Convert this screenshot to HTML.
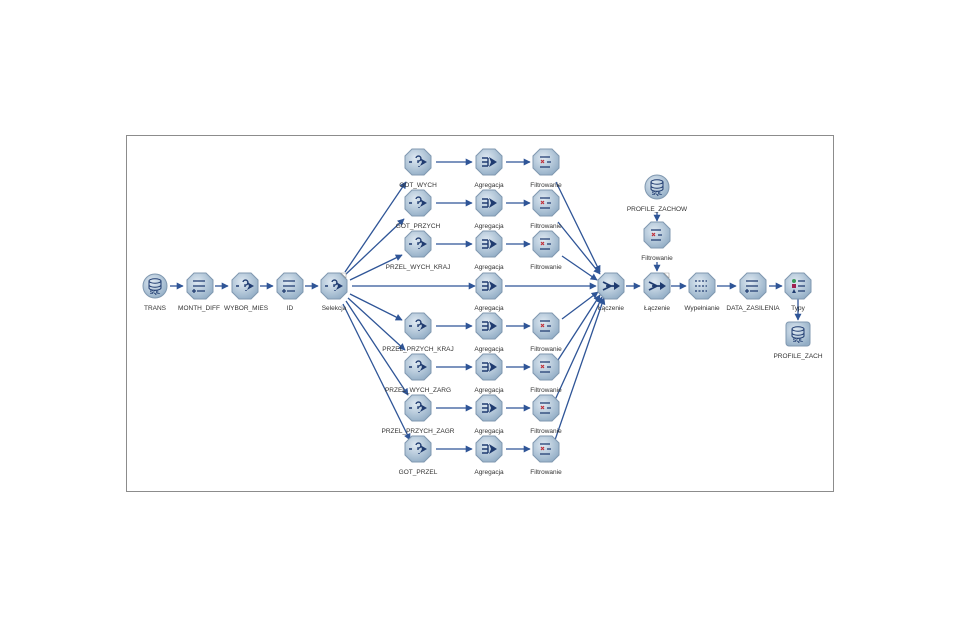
<!DOCTYPE html>
<html><head><meta charset="utf-8"><style>
html,body{margin:0;padding:0;background:#fff;}
svg{display:block}
text{font-family:"Liberation Sans",sans-serif;font-size:6.5px;fill:#333;text-anchor:middle}
.l{stroke:#2f5597;stroke-width:1.3;fill:none;marker-end:url(#a)}
</style></head><body>
<svg width="960" height="627" viewBox="0 0 960 627" xmlns="http://www.w3.org/2000/svg">
<defs>
<marker id="a" viewBox="0 0 10 10" refX="9" refY="5" markerWidth="7" markerHeight="7" orient="auto" markerUnits="userSpaceOnUse"><path d="M0,0 L10,5 L0,10 z" fill="#2f5597"/></marker>
<radialGradient id="g" cx="40%" cy="35%" r="70%"><stop offset="0" stop-color="#dfe9f2"/><stop offset="1" stop-color="#93aec6"/></radialGradient>
<g id="hx"><polygon points="-6,-13 6,-13 13,-6 13,6 6,13 -6,13 -13,6 -13,-6" fill="url(#g)" stroke="#8098b0" stroke-width="1"/></g>
<g id="sel"><use href="#hx"/><path d="M-9,0h3 M-2,-4a2.5,2.5 0 1 1 2,3v2 M1,4v1" stroke="#1f3b70" stroke-width="1.4" fill="none"/><path d="M2,-4l7,4l-7,4l2,-4z" fill="#1f3b70"/></g>
<g id="agg"><use href="#hx"/><path d="M-7,-4h6M-7,0h6M-7,4h6M-1,-4v8" stroke="#1f3b70" stroke-width="1.4" fill="none"/><path d="M0,-5l8,5l-8,5l2,-5z" fill="#1f3b70"/></g>
<g id="flt"><use href="#hx"/><path d="M-6,-5h10M-6,5h10M1,0h4" stroke="#1f3b70" stroke-width="1.2"/><path d="M-5,-2l3,3M-2,-2l-3,3" stroke="#c0303a" stroke-width="1.2"/></g>
<g id="der"><use href="#hx"/><path d="M-7,-5h12M-7,0h12M-3,5h8M-6,3v4M-8,5h4" stroke="#1f3b70" stroke-width="1.3"/></g>
<g id="mrg"><use href="#hx"/><path d="M-8,-4l8,4l-8,4M-5,0h12" stroke="#1f3b70" stroke-width="1.8" fill="none"/><path d="M3,-4l6,4l-6,4z" fill="#1f3b70"/></g>
<g id="fil"><use href="#hx"/><path d="M-7,-5h12M-7,0h12M-7,5h12" stroke="#1f3b70" stroke-width="1.2" stroke-dasharray="2,1.5"/></g>
<g id="typ"><use href="#hx"/><circle cx="-4" cy="-5" r="2" fill="#3a9a5a"/><rect x="-6" y="-2" width="4" height="4" fill="#a02050"/><path d="M-6,7l2,-4l2,4z" fill="#1f3b70"/><path d="M0,-5h7M0,0h7M0,5h7" stroke="#1f3b70" stroke-width="1.2"/></g>
<g id="sql"><circle r="12" fill="url(#g)" stroke="#8098b0"/><ellipse cy="-5" rx="6" ry="2.2" fill="none" stroke="#1f3b70"/><path d="M-6,-5v7a6,2.2 0 0 0 12,0v-7M-6,-1a6,2.2 0 0 0 12,0" fill="none" stroke="#1f3b70"/><text y="8" style="font-size:5px;fill:#1f3b70;font-weight:bold">SQL</text></g>
<g id="sqs"><rect x="-12" y="-12" width="24" height="24" rx="3" fill="url(#g)" stroke="#8098b0"/><ellipse cy="-5" rx="6" ry="2.2" fill="none" stroke="#1f3b70"/><path d="M-6,-5v7a6,2.2 0 0 0 12,0v-7M-6,-1a6,2.2 0 0 0 12,0" fill="none" stroke="#1f3b70"/><text y="8" style="font-size:5px;fill:#1f3b70;font-weight:bold">SQL</text></g>
</defs>
<rect x="126.5" y="135.5" width="707" height="356" fill="#fff" stroke="#8c8c8c"/>
<path class="l" d="M170,286H183"/><path class="l" d="M215,286H228"/><path class="l" d="M260,286H273"/><path class="l" d="M305,286H318"/>
<path class="l" d="M345,272L406,182"/><path class="l" d="M345,275L404,219"/><path class="l" d="M350,280L402,255"/>
<path class="l" d="M352,286L475,286"/>
<path class="l" d="M350,294L402,320"/><path class="l" d="M348,298L405,350"/><path class="l" d="M346,301L408,395"/><path class="l" d="M343,304L410,440"/>
<g>
<path class="l" d="M436,162H472"/><path class="l" d="M506,162H530"/>
<path class="l" d="M436,203H472"/><path class="l" d="M506,203H530"/>
<path class="l" d="M436,244H472"/><path class="l" d="M506,244H530"/>
<path class="l" d="M505,286H596"/>
<path class="l" d="M436,326H472"/><path class="l" d="M506,326H530"/>
<path class="l" d="M436,367H472"/><path class="l" d="M506,367H530"/>
<path class="l" d="M436,408H472"/><path class="l" d="M506,408H530"/>
<path class="l" d="M436,449H472"/><path class="l" d="M506,449H530"/>
</g>
<path class="l" d="M556,182L600,272"/><path class="l" d="M558,222L600,274"/><path class="l" d="M562,256L597,280"/>
<path class="l" d="M562,319L598,292"/><path class="l" d="M558,360L600,295"/><path class="l" d="M555,400L602,297"/><path class="l" d="M555,440L604,298"/>
<path class="l" d="M626,286H640"/><path class="l" d="M671,286H686"/><path class="l" d="M717,286H736"/><path class="l" d="M769,286H782"/>
<path class="l" d="M657,212V221"/><path class="l" d="M657,262V271"/><path class="l" d="M798,299V320"/>
<use href="#sql" x="155" y="286"/><text x="155" y="310">TRANS</text>
<use href="#der" x="200" y="286"/><text x="199" y="310">MONTH_DIFF</text>
<use href="#sel" x="245" y="286"/><text x="246" y="310">WYBOR_MIES</text>
<use href="#der" x="290" y="286"/><text x="290" y="310">ID</text>
<use href="#sel" x="334" y="286"/><path d="M341,273h5v5z" fill="#fff" stroke="#999" stroke-width=".6"/><text x="334" y="310">Selekcja</text>
<use href="#sel" x="418" y="162"/><text x="418" y="187">GOT_WYCH</text>
<use href="#sel" x="418" y="203"/><text x="418" y="228">GOT_PRZYCH</text>
<use href="#sel" x="418" y="244"/><text x="418" y="269">PRZEL_WYCH_KRAJ</text>
<use href="#sel" x="418" y="326"/><text x="418" y="351">PRZEL_PRZYCH_KRAJ</text>
<use href="#sel" x="418" y="367"/><text x="418" y="392">PRZEL_WYCH_ZARG</text>
<use href="#sel" x="418" y="408"/><text x="418" y="433">PRZEL_PRZYCH_ZAGR</text>
<use href="#sel" x="418" y="449"/><text x="418" y="474">GOT_PRZEL</text>
<use href="#agg" x="489" y="162"/><text x="489" y="187">Agregacja</text>
<use href="#agg" x="489" y="203"/><text x="489" y="228">Agregacja</text>
<use href="#agg" x="489" y="244"/><text x="489" y="269">Agregacja</text>
<use href="#agg" x="489" y="286"/><text x="489" y="310">Agregacja</text>
<use href="#agg" x="489" y="326"/><text x="489" y="351">Agregacja</text>
<use href="#agg" x="489" y="367"/><text x="489" y="392">Agregacja</text>
<use href="#agg" x="489" y="408"/><text x="489" y="433">Agregacja</text>
<use href="#agg" x="489" y="449"/><text x="489" y="474">Agregacja</text>
<use href="#flt" x="546" y="162"/><text x="546" y="187">Filtrowanie</text>
<use href="#flt" x="546" y="203"/><text x="546" y="228">Filtrowanie</text>
<use href="#flt" x="546" y="244"/><text x="546" y="269">Filtrowanie</text>
<use href="#flt" x="546" y="326"/><text x="546" y="351">Filtrowanie</text>
<use href="#flt" x="546" y="367"/><text x="546" y="392">Filtrowanie</text>
<use href="#flt" x="546" y="408"/><text x="546" y="433">Filtrowanie</text>
<use href="#flt" x="546" y="449"/><text x="546" y="474">Filtrowanie</text>
<use href="#mrg" x="611" y="286"/><text x="611" y="310">Łączenie</text>
<use href="#sql" x="657" y="187"/><text x="657" y="211">PROFILE_ZACHOW</text>
<use href="#flt" x="657" y="235"/><text x="657" y="260">Filtrowanie</text>
<use href="#mrg" x="657" y="286"/><path d="M664,273h5v5z" fill="#fff" stroke="#999" stroke-width=".6"/><text x="657" y="310">Łączenie</text>
<use href="#fil" x="702" y="286"/><text x="702" y="310">Wypełnianie</text>
<use href="#der" x="753" y="286"/><text x="753" y="310">DATA_ZASILENIA</text>
<use href="#typ" x="798" y="286"/><text x="798" y="310">Typy</text>
<use href="#sqs" x="798" y="334"/><text x="798" y="358">PROFILE_ZACH</text>
</svg>
</body></html>
